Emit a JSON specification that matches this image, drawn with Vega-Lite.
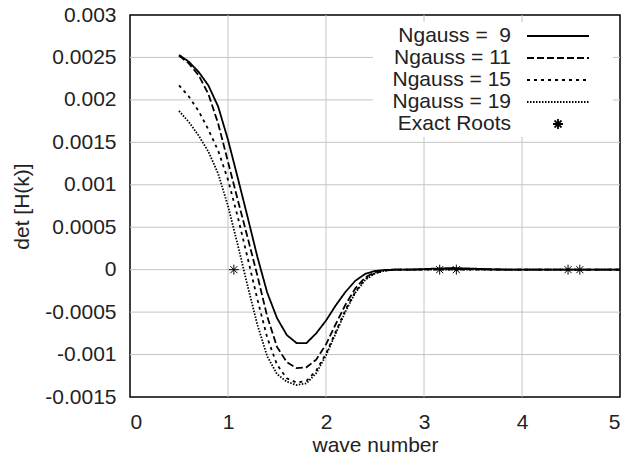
{
  "$schema": "https://vega.github.io/schema/vega-lite/v6.json",
  "autosize": "none",
  "width": 490,
  "height": 382,
  "padding": {"left": 130, "top": 15, "right": 5, "bottom": 64},
  "background": "white",
  "config": {
    "font": "Liberation Sans",
    "view": {"stroke": "black", "strokeWidth": 1.5},
    "axis": {
      "domain": false,
      "ticks": false,
      "grid": false,
      "labelFont": "Liberation Sans",
      "labelFontSize": 21,
      "labelColor": "#222",
      "titleFont": "Liberation Sans",
      "titleFontSize": 21,
      "titleFontWeight": "normal",
      "titleColor": "#222"
    },
    "legend": {
      "orient": "top-right",
      "offset": 7,
      "fillColor": "white",
      "padding": 3,
      "labelFont": "Liberation Sans",
      "labelFontSize": 21,
      "labelColor": "#222",
      "labelLimit": 300,
      "labelAlign": "right",
      "labelOffset": 113,
      "symbolSize": 400,
      "symbolStrokeWidth": 1.8,
      "symbolStrokeColor": "black",
      "symbolFillColor": "transparent",
      "symbolOpacity": 1,
      "rowPadding": 1
    }
  },
  "datasets": {
    "gridx": [{"gx": 1}, {"gx": 2}, {"gx": 3}, {"gx": 4}],
    "gridy": [{"gy": -0.001}, {"gy": -0.0005}, {"gy": 0}, {"gy": 0.0005}, {"gy": 0.001}, {"gy": 0.0015}, {"gy": 0.002}, {"gy": 0.0025}],
    "curves": [
      {"k": 0.5, "det": 0.00253, "series": "Ngauss = \u00a09"},
      {"k": 0.6, "det": 0.00245, "series": "Ngauss = \u00a09"},
      {"k": 0.7, "det": 0.00233, "series": "Ngauss = \u00a09"},
      {"k": 0.8, "det": 0.00217, "series": "Ngauss = \u00a09"},
      {"k": 0.9, "det": 0.00192, "series": "Ngauss = \u00a09"},
      {"k": 1.0, "det": 0.00153, "series": "Ngauss = \u00a09"},
      {"k": 1.1, "det": 0.00108, "series": "Ngauss = \u00a09"},
      {"k": 1.2, "det": 0.00062, "series": "Ngauss = \u00a09"},
      {"k": 1.3, "det": 0.00015, "series": "Ngauss = \u00a09"},
      {"k": 1.4, "det": -0.00027, "series": "Ngauss = \u00a09"},
      {"k": 1.5, "det": -0.00057, "series": "Ngauss = \u00a09"},
      {"k": 1.6, "det": -0.00077, "series": "Ngauss = \u00a09"},
      {"k": 1.7, "det": -0.000865, "series": "Ngauss = \u00a09"},
      {"k": 1.8, "det": -0.000865, "series": "Ngauss = \u00a09"},
      {"k": 1.9, "det": -0.00075, "series": "Ngauss = \u00a09"},
      {"k": 2.0, "det": -0.0006, "series": "Ngauss = \u00a09"},
      {"k": 2.1, "det": -0.00042, "series": "Ngauss = \u00a09"},
      {"k": 2.2, "det": -0.00026, "series": "Ngauss = \u00a09"},
      {"k": 2.3, "det": -0.00013, "series": "Ngauss = \u00a09"},
      {"k": 2.4, "det": -0.00005, "series": "Ngauss = \u00a09"},
      {"k": 2.5, "det": -0.000015, "series": "Ngauss = \u00a09"},
      {"k": 2.6, "det": -0.000003, "series": "Ngauss = \u00a09"},
      {"k": 2.7, "det": 0.0, "series": "Ngauss = \u00a09"},
      {"k": 2.9, "det": 0.000002, "series": "Ngauss = \u00a09"},
      {"k": 3.1, "det": 0.000012, "series": "Ngauss = \u00a09"},
      {"k": 3.3, "det": 0.00002, "series": "Ngauss = \u00a09"},
      {"k": 3.5, "det": 0.000012, "series": "Ngauss = \u00a09"},
      {"k": 3.7, "det": 0.000004, "series": "Ngauss = \u00a09"},
      {"k": 3.9, "det": 0.0, "series": "Ngauss = \u00a09"},
      {"k": 4.5, "det": 0.0, "series": "Ngauss = \u00a09"},
      {"k": 5.0, "det": 0.0, "series": "Ngauss = \u00a09"},

      {"k": 0.5, "det": 0.00252, "series": "Ngauss = 11"},
      {"k": 0.6, "det": 0.00243, "series": "Ngauss = 11"},
      {"k": 0.7, "det": 0.00229, "series": "Ngauss = 11"},
      {"k": 0.8, "det": 0.00207, "series": "Ngauss = 11"},
      {"k": 0.9, "det": 0.00172, "series": "Ngauss = 11"},
      {"k": 1.0, "det": 0.00127, "series": "Ngauss = 11"},
      {"k": 1.1, "det": 0.00082, "series": "Ngauss = 11"},
      {"k": 1.2, "det": 0.00038, "series": "Ngauss = 11"},
      {"k": 1.3, "det": -0.00007, "series": "Ngauss = 11"},
      {"k": 1.4, "det": -0.00055, "series": "Ngauss = 11"},
      {"k": 1.5, "det": -0.00091, "series": "Ngauss = 11"},
      {"k": 1.6, "det": -0.00109, "series": "Ngauss = 11"},
      {"k": 1.7, "det": -0.00116, "series": "Ngauss = 11"},
      {"k": 1.8, "det": -0.00115, "series": "Ngauss = 11"},
      {"k": 1.9, "det": -0.00106, "series": "Ngauss = 11"},
      {"k": 2.0, "det": -0.00088, "series": "Ngauss = 11"},
      {"k": 2.1, "det": -0.00064, "series": "Ngauss = 11"},
      {"k": 2.2, "det": -0.00041, "series": "Ngauss = 11"},
      {"k": 2.3, "det": -0.00022, "series": "Ngauss = 11"},
      {"k": 2.4, "det": -0.00009, "series": "Ngauss = 11"},
      {"k": 2.5, "det": -0.00003, "series": "Ngauss = 11"},
      {"k": 2.6, "det": -0.000008, "series": "Ngauss = 11"},
      {"k": 2.7, "det": 0.0, "series": "Ngauss = 11"},
      {"k": 2.9, "det": 0.000001, "series": "Ngauss = 11"},
      {"k": 3.1, "det": 0.000006, "series": "Ngauss = 11"},
      {"k": 3.3, "det": 0.00001, "series": "Ngauss = 11"},
      {"k": 3.5, "det": 0.000006, "series": "Ngauss = 11"},
      {"k": 3.7, "det": 0.000002, "series": "Ngauss = 11"},
      {"k": 3.9, "det": 0.0, "series": "Ngauss = 11"},
      {"k": 4.5, "det": 0.0, "series": "Ngauss = 11"},
      {"k": 5.0, "det": 0.0, "series": "Ngauss = 11"},

      {"k": 0.5, "det": 0.00217, "series": "Ngauss = 15"},
      {"k": 0.6, "det": 0.00204, "series": "Ngauss = 15"},
      {"k": 0.7, "det": 0.00187, "series": "Ngauss = 15"},
      {"k": 0.8, "det": 0.00165, "series": "Ngauss = 15"},
      {"k": 0.9, "det": 0.0014, "series": "Ngauss = 15"},
      {"k": 1.0, "det": 0.00106, "series": "Ngauss = 15"},
      {"k": 1.1, "det": 0.00062, "series": "Ngauss = 15"},
      {"k": 1.2, "det": 0.00014, "series": "Ngauss = 15"},
      {"k": 1.3, "det": -0.00035, "series": "Ngauss = 15"},
      {"k": 1.4, "det": -0.0008, "series": "Ngauss = 15"},
      {"k": 1.5, "det": -0.00112, "series": "Ngauss = 15"},
      {"k": 1.6, "det": -0.00128, "series": "Ngauss = 15"},
      {"k": 1.7, "det": -0.00133, "series": "Ngauss = 15"},
      {"k": 1.8, "det": -0.00131, "series": "Ngauss = 15"},
      {"k": 1.9, "det": -0.00119, "series": "Ngauss = 15"},
      {"k": 2.0, "det": -0.00099, "series": "Ngauss = 15"},
      {"k": 2.1, "det": -0.00073, "series": "Ngauss = 15"},
      {"k": 2.2, "det": -0.00047, "series": "Ngauss = 15"},
      {"k": 2.3, "det": -0.00026, "series": "Ngauss = 15"},
      {"k": 2.4, "det": -0.00011, "series": "Ngauss = 15"},
      {"k": 2.5, "det": -0.00004, "series": "Ngauss = 15"},
      {"k": 2.6, "det": -0.00001, "series": "Ngauss = 15"},
      {"k": 2.7, "det": 0.0, "series": "Ngauss = 15"},
      {"k": 3.0, "det": 0.0, "series": "Ngauss = 15"},
      {"k": 4.0, "det": 0.0, "series": "Ngauss = 15"},
      {"k": 5.0, "det": 0.0, "series": "Ngauss = 15"},

      {"k": 0.5, "det": 0.00187, "series": "Ngauss = 19"},
      {"k": 0.6, "det": 0.00174, "series": "Ngauss = 19"},
      {"k": 0.7, "det": 0.00158, "series": "Ngauss = 19"},
      {"k": 0.8, "det": 0.00139, "series": "Ngauss = 19"},
      {"k": 0.9, "det": 0.00113, "series": "Ngauss = 19"},
      {"k": 1.0, "det": 0.00075, "series": "Ngauss = 19"},
      {"k": 1.1, "det": 0.00029, "series": "Ngauss = 19"},
      {"k": 1.2, "det": -0.00019, "series": "Ngauss = 19"},
      {"k": 1.3, "det": -0.00065, "series": "Ngauss = 19"},
      {"k": 1.4, "det": -0.00102, "series": "Ngauss = 19"},
      {"k": 1.5, "det": -0.00123, "series": "Ngauss = 19"},
      {"k": 1.6, "det": -0.00132, "series": "Ngauss = 19"},
      {"k": 1.7, "det": -0.00136, "series": "Ngauss = 19"},
      {"k": 1.8, "det": -0.00134, "series": "Ngauss = 19"},
      {"k": 1.9, "det": -0.00122, "series": "Ngauss = 19"},
      {"k": 2.0, "det": -0.00101, "series": "Ngauss = 19"},
      {"k": 2.1, "det": -0.00075, "series": "Ngauss = 19"},
      {"k": 2.2, "det": -0.00049, "series": "Ngauss = 19"},
      {"k": 2.3, "det": -0.00027, "series": "Ngauss = 19"},
      {"k": 2.4, "det": -0.00012, "series": "Ngauss = 19"},
      {"k": 2.5, "det": -0.000045, "series": "Ngauss = 19"},
      {"k": 2.6, "det": -0.000012, "series": "Ngauss = 19"},
      {"k": 2.7, "det": 0.0, "series": "Ngauss = 19"},
      {"k": 3.0, "det": 0.0, "series": "Ngauss = 19"},
      {"k": 4.0, "det": 0.0, "series": "Ngauss = 19"},
      {"k": 5.0, "det": 0.0, "series": "Ngauss = 19"}
    ],
    "roots": [
      {"k": 1.06, "det": 0.0, "series": "Exact Roots"},
      {"k": 3.16, "det": 0.0, "series": "Exact Roots"},
      {"k": 3.33, "det": 0.0, "series": "Exact Roots"},
      {"k": 4.47, "det": 0.0, "series": "Exact Roots"},
      {"k": 4.59, "det": 0.0, "series": "Exact Roots"}
    ]
  },
  "layer": [
    {
      "data": {"name": "gridx"},
      "mark": {"type": "rule", "color": "#c4c4c4", "strokeWidth": 1},
      "encoding": {
        "x": {"field": "gx", "type": "quantitative", "title": "wave number", "scale": {"domain": [0, 5], "nice": false, "zero": false}}
      }
    },
    {
      "data": {"name": "gridy"},
      "mark": {"type": "rule", "color": "#c4c4c4", "strokeWidth": 1},
      "encoding": {
        "y": {"field": "gy", "type": "quantitative", "title": "det [H(k)]", "scale": {"domain": [-0.0015, 0.003], "nice": false, "zero": false}}
      }
    },
    {
      "data": {"name": "curves"},
      "mark": {"type": "line", "color": "black", "strokeWidth": 1.8},
      "encoding": {
        "x": {
          "field": "k",
          "type": "quantitative",
          "title": "wave number",
          "scale": {"domain": [0, 5], "nice": false, "zero": false},
          "axis": {"values": [0, 1, 2, 3, 4, 5], "format": "~g", "labelPadding": 14, "titlePadding": 2}
        },
        "y": {
          "field": "det",
          "type": "quantitative",
          "title": "det [H(k)]",
          "scale": {"domain": [-0.0015, 0.003], "nice": false, "zero": false},
          "axis": {
            "values": [-0.0015, -0.001, -0.0005, 0, 0.0005, 0.001, 0.0015, 0.002, 0.0025, 0.003],
            "labelExpr": "toString(datum.value)",
            "labelPadding": 14,
            "titlePadding": 12
          }
        },
        "strokeDash": {
          "field": "series",
          "type": "nominal",
          "scale": {
            "domain": ["Ngauss = \u00a09", "Ngauss = 11", "Ngauss = 15", "Ngauss = 19", "Exact Roots"],
            "range": [[1, 0], [7, 3], [3, 4], [1.5, 1.5], [1, 0]]
          },
          "legend": {"title": null}
        }
      }
    },
    {
      "data": {"name": "roots"},
      "mark": {
        "type": "point",
        "filled": false,
        "color": "black",
        "strokeWidth": 1,
        "size": 400,
        "opacity": 1,
        "shape": "M0,-0.5L0,0.5M-0.5,0L0.5,0M-0.35,-0.35L0.35,0.35M-0.35,0.35L0.35,-0.35"
      },
      "encoding": {
        "x": {"field": "k", "type": "quantitative", "title": "wave number", "scale": {"domain": [0, 5], "nice": false, "zero": false}},
        "y": {"field": "det", "type": "quantitative", "title": "det [H(k)]", "scale": {"domain": [-0.0015, 0.003], "nice": false, "zero": false}}
      }
    },
    {
      "data": {"name": "roots"},
      "mark": {"type": "point", "filled": false, "color": "black", "strokeWidth": 1, "size": 400, "opacity": 0},
      "encoding": {
        "x": {"field": "k", "type": "quantitative", "title": "wave number", "scale": {"domain": [0, 5], "nice": false, "zero": false}},
        "y": {"field": "det", "type": "quantitative", "title": "det [H(k)]", "scale": {"domain": [-0.0015, 0.003], "nice": false, "zero": false}},
        "shape": {
          "field": "series",
          "type": "nominal",
          "scale": {
            "domain": ["Ngauss = \u00a09", "Ngauss = 11", "Ngauss = 15", "Ngauss = 19", "Exact Roots"],
            "range": [
              "M14,0L20.2,0M21.9,0",
              "M14,0L20.2,0M21.9,0",
              "M14,0L20.2,0M21.9,0",
              "M14,0L20.2,0M21.9,0",
              "M17.1,-0.5L17.1,0.5M16.6,0L17.6,0M16.75,-0.35L17.45,0.35M16.75,0.35L17.45,-0.35M21.9,0"
            ]
          },
          "legend": {"title": null}
        }
      }
    }
  ]
}
